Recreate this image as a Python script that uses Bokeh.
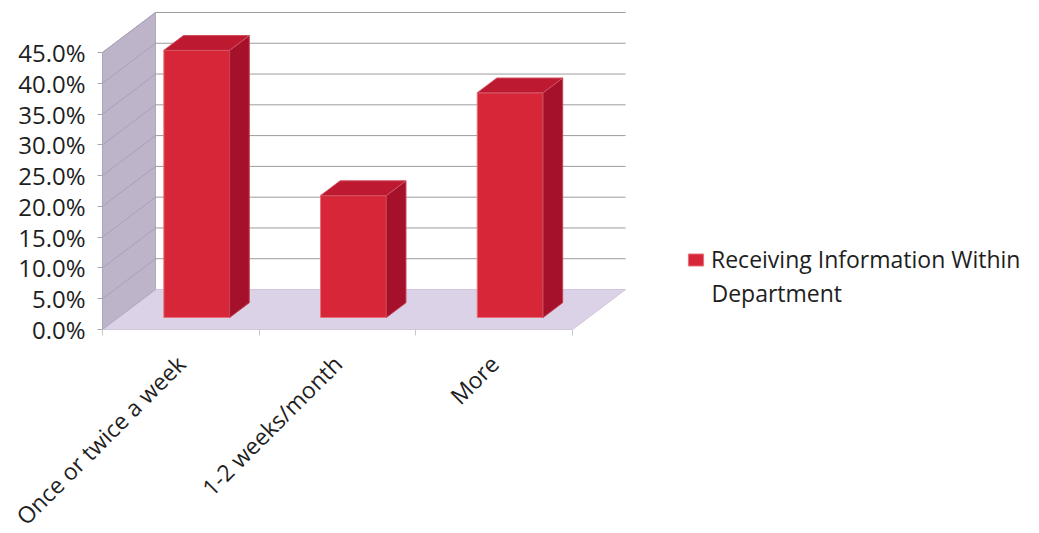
import math
from bokeh.plotting import figure
from bokeh.models import Range1d, FixedTicker, PrintfTickFormatter, Legend, LegendItem, Label
from bokeh.embed import file_html
from bokeh.resources import INLINE

# ---- data ----
categories = ["Once or twice a week", "1-2 weeks/month", "More"]
values = [43.4, 19.8, 36.5]
series_line1 = "Receiving Information Within"
series_line2 = "Department"
y_ticks = [0, 5, 10, 15, 20, 25, 30, 35, 40, 45]

# ---- geometry (oblique 3D projection in data units) ----
PX_PER_UNIT = 156.7
PX_PER_PCT = 6.156
DX = 53 / PX_PER_UNIT      # depth offset in x units
DY = 40 / PX_PER_PCT       # depth offset in % units
D0, D1 = 0.30, 0.67        # bar depth range
BAR_W = 0.42
N = len(categories)
YMAX = y_ticks[-1]

LEFT, RIGHT, TOP = 102, 5, 10
frame_w, frame_h = 925, 319

p = figure(frame_width=frame_w, frame_height=frame_h,
           output_backend="svg", toolbar_location=None,
           x_range=Range1d(0, frame_w / PX_PER_UNIT),
           y_range=Range1d(0, frame_h / PX_PER_PCT),
           min_border_left=LEFT, min_border_right=RIGHT,
           min_border_top=TOP, min_border_bottom=0)
p.outline_line_color = None
p.grid.visible = False
p.background_fill_color = "white"

# floor
p.patch([0, N, N + DX, DX], [0, 0, DY, DY], fill_color="#dcd2e8", line_color="#cfc5dc")
# side wall
p.patch([0, 0, DX, DX], [0, YMAX, YMAX + DY, DY], fill_color="#bdb4ca", line_color="#b0a8c0")
# side wall gridlines
for v in y_ticks[1:]:
    p.line([0, DX], [v, v + DY], line_color="#a9a0b8", line_width=1)
# back wall gridlines
for v in y_ticks[1:]:
    p.line([DX, N + DX], [v + DY, v + DY], line_color="#9c9c9c", line_width=1)

# bars
xl = [i + 0.5 - BAR_W / 2 for i in range(N)]
xr = [i + 0.5 + BAR_W / 2 for i in range(N)]
front = p.quad(left=[a + D0 * DX for a in xl], right=[b + D0 * DX for b in xr],
               bottom=[D0 * DY] * N, top=[v + D0 * DY for v in values],
               fill_color="#d72638", line_color="#e8707c", line_width=1)
side_xs, side_ys, top_xs, top_ys = [], [], [], []
for a, b, v in zip(xl, xr, values):
    side_xs.append([b + D0 * DX, b + D1 * DX, b + D1 * DX, b + D0 * DX])
    side_ys.append([D0 * DY, D1 * DY, v + D1 * DY, v + D0 * DY])
    top_xs.append([a + D0 * DX, b + D0 * DX, b + D1 * DX, a + D1 * DX])
    top_ys.append([v + D0 * DY, v + D0 * DY, v + D1 * DY, v + D1 * DY])
p.patches(side_xs, side_ys, fill_color="#a5102a", line_color="#c04050", line_width=1)
p.patches(top_xs, top_ys, fill_color="#bd1a32", line_color="#d05060", line_width=1)

# axes
FONT = "Open Sans"
yax = p.yaxis[0]
yax.ticker = FixedTicker(ticks=y_ticks)
yax.formatter = PrintfTickFormatter(format="%.1f%%")
yax.bounds = (0, YMAX)
yax.axis_line_color = "#a8a8b0"
yax.major_tick_line_color = "#a8a8b0"
yax.major_tick_out = 5
yax.major_tick_in = 0
yax.minor_tick_line_color = None
yax.major_label_standoff = 12
yax.major_label_text_font = FONT
yax.major_label_text_font_size = "24px"
yax.major_label_text_color = "#1e1e1e"

xax = p.xaxis[0]
xax.ticker = FixedTicker(ticks=[i + 0.5 for i in range(N)], minor_ticks=list(range(N + 1)))
xax.major_label_overrides = {i + 0.5: c for i, c in enumerate(categories)}
xax.major_label_orientation = math.pi / 4
xax.bounds = (0, N)
xax.axis_line_color = "#cfc8d8"
xax.major_tick_line_color = None
xax.minor_tick_line_color = "#c8c8c8"
xax.minor_tick_out = 6
xax.minor_tick_in = 0
xax.major_label_standoff = 24
xax.major_label_text_font = FONT
xax.major_label_text_font_size = "23px"
xax.major_label_text_color = "#1e1e1e"

legend = Legend(items=[LegendItem(label=series_line1, renderers=[front])],
                location=(584, 54), padding=0, margin=0, spacing=0,
                border_line_color=None, background_fill_alpha=0,
                label_text_font=FONT, label_text_font_size="23px",
                label_text_color="#1e1e1e", glyph_width=19, glyph_height=15,
                label_standoff=6)
p.add_layout(legend)

legend_x = (711 - LEFT) / PX_PER_UNIT
p.add_layout(Label(x=legend_x, y=(329 - 292) / PX_PER_PCT, text=series_line2,
                   text_font=FONT, text_font_size="23px", text_color="#1e1e1e",
                   text_baseline="middle", text_align="left"))

open("out.html", "w").write(file_html(p, INLINE))
